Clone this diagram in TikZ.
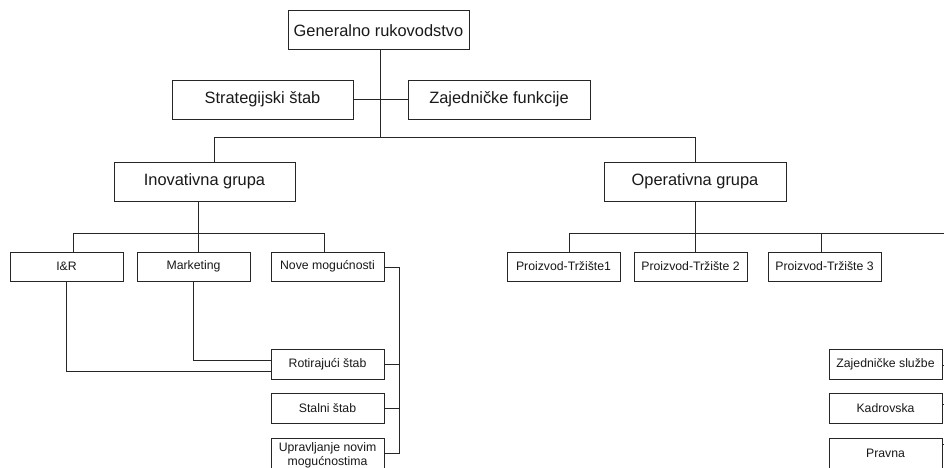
\documentclass[tikz,border=0pt]{standalone}
\usepackage{fontspec}
\setmainfont{Liberation Sans}
\begin{document}
\begin{tikzpicture}[x=0.75pt,y=-0.75pt,
  line width=0.75pt,
  box/.style 2 args={draw=black!85, fill=white, inner sep=0pt, align=center,
    minimum width=#1*0.75pt, minimum height=#2*0.75pt, text=black!90},
  big/.style={box={#1}{39}, font=\fontsize{12.3pt}{14pt}\selectfont},
  small/.style={box={113}{#1}, font=\fontsize{9.2pt}{10.6pt}\selectfont},
  wire/.style={draw=black!85, line width=0.75pt}]
\useasboundingbox (0,0) rectangle (944,467);
\clip (0,0) rectangle (944,467);

% top management and staff
\node[big=181] (gen)   at (378.5,30.5) {Generalno rukovodstvo};
\node[big=181] (strat) at (262.5,99.5) {Strategijski štab};
\node[big=182] (zaj)   at (499,99.5)   {Zajedničke funkcije};

% the two groups
\node[big=181] (inov) at (204.5,181.5) {Inovativna grupa};
\node[big=182] (oper) at (695,181.5)   {Operativna grupa};

% innovation units
\node[small=29] (ir)   at (66.5,266.5)  {I\&R};
\node[small=29] (mkt)  at (193.5,266.5) {Marketing};
\node[small=29] (nove) at (327.5,266.5) {Nove mogućnosti};
\node[small=30] (rot)  at (327.5,364)   {Rotirajući štab};
\node[small=30] (stal) at (327.5,408)   {Stalni štab};
\node[small=34, font=\fontsize{9.2pt}{10.3pt}\selectfont] (upr) at (327.5,455)
  {Upravljanje novim\\mogućnostima};

% operative units
\node[small=29] (pt1) at (563.5,266.5) {Proizvod-Tržište1};
\node[small=29] (pt2) at (690.5,266.5) {Proizvod-Tržište 2};
\node[small=29] (pt3) at (824.5,266.5) {Proizvod-Tržište 3};
\node[small=30] (zs)  at (885.5,364)   {Zajedničke službe};
\node[small=30] (kad) at (885.5,408)   {Kadrovska};
\node[small=30] (pra) at (885.5,453)   {Pravna};

% junction points
\coordinate (trunk) at (380.5,137);
\coordinate (busL)  at (214,137);
\coordinate (busR)  at (695,137);
\coordinate (ibus)  at (198,233);
\coordinate (ibL)   at (73,233);
\coordinate (ibR)   at (324,233);
\coordinate (obus)  at (695.5,233);
\coordinate (obL)   at (569,233);
\coordinate (ob3)   at (821,233);
\coordinate (obR)   at (960,233);
\coordinate (irC)   at (66.7,371);
\coordinate (mkC)   at (193.7,360);
\coordinate (brT)   at (399,267);
\coordinate (brB)   at (399,453);
\coordinate (zsR)   at (960,365);
\coordinate (kaR)   at (960,404);
\coordinate (prR)   at (960,444);

% top level
\draw[wire] (gen.south -| trunk) -- (trunk);
\draw[wire] (strat.east) -- (zaj.west);
\draw[wire] (busL) -- (busR);
\draw[wire] (busL) -- (busL |- inov.north);
\draw[wire] (busR) -- (busR |- oper.north);

% innovation group
\draw[wire] (inov.south -| ibus) -- (ibus);
\draw[wire] (ibL) -- (ibR);
\draw[wire] (ibL) -- (ibL |- ir.north);
\draw[wire] (ibus) -- (ibus |- mkt.north);
\draw[wire] (ibR) -- (ibR |- nove.north);
\draw[wire] (ir.south -| irC) -- (irC) -- (irC -| rot.west);
\draw[wire] (mkt.south -| mkC) -- (mkC) -- (mkC -| rot.west);
\draw[wire] (nove.east |- brT) -- (brT) -- (brB) -- (brB -| upr.east);
\draw[wire] (rot.east) -- (rot.east -| brT);
\draw[wire] (stal.east) -- (stal.east -| brT);

% operative group
\draw[wire] (oper.south -| obus) -- (obus) -- (obus |- pt2.north);
\draw[wire] (obL) -- (obR);
\draw[wire] (obL) -- (obL |- pt1.north);
\draw[wire] (ob3) -- (ob3 |- pt3.north);
\draw[wire] (zs.east |- zsR) -- (zsR);
\draw[wire] (kad.east |- kaR) -- (kaR);
\draw[wire] (pra.east |- prR) -- (prR);
\end{tikzpicture}
\end{document}
